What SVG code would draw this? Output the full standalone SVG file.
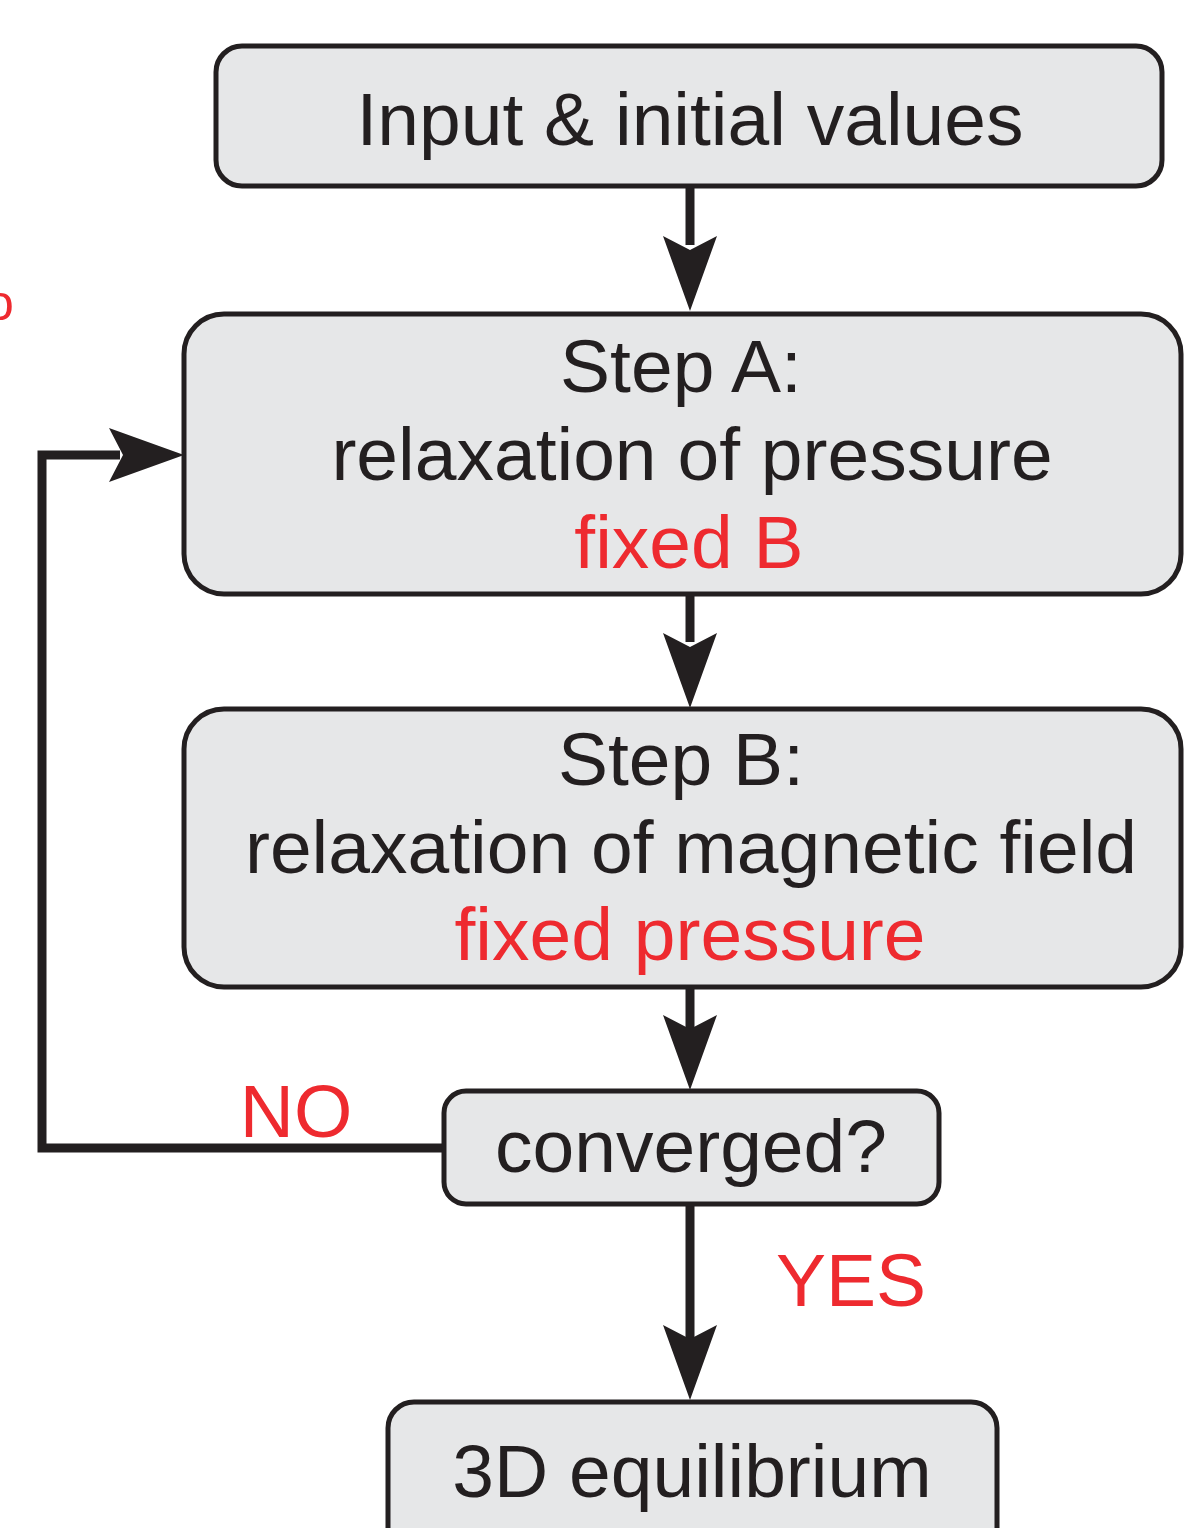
<svg xmlns="http://www.w3.org/2000/svg" width="1184" height="1528" viewBox="0 0 1184 1528">
<defs>
<style>
.box{fill:#e6e7e8;stroke:#231f20;stroke-width:5}
.t{font-family:"Liberation Sans",Arial,sans-serif;font-size:75px;fill:#231f20;text-anchor:middle}
.r{fill:#ee2a2f}
.line{fill:none;stroke:#231f20;stroke-width:9;stroke-linejoin:miter}
.head{fill:#231f20}
</style>
</defs>
<rect width="1184" height="1528" fill="#ffffff"/>
<text x="-14" y="320" style="font-family:'Liberation Sans',Arial,sans-serif;font-size:50px" class="r">o</text>
<g id="connectors">
<path class="line" d="M690,187 V245"/>
<path class="head" d="M690,311 L663,236 L690,250 L717,236 Z"/>
<path class="line" d="M690,595 V642"/>
<path class="head" d="M690,708 L663,633 L690,647 L717,633 Z"/>
<path class="line" d="M690,988 V1030"/>
<path class="head" d="M690,1090 L663,1015 L690,1029 L717,1015 Z"/>
<path class="line" d="M690,1205 V1340"/>
<path class="head" d="M690,1400 L663,1325 L690,1339 L717,1325 Z"/>
<path class="line" d="M443,1148 H42 V455 H120"/>
<path class="head" d="M184,455 L109,428 L123,455 L109,482 Z"/>
<text class="t r" x="296" y="1137">NO</text>
<text class="t r" x="851" y="1306">YES</text>
</g>
<g id="input">
<rect class="box" x="216" y="46" width="946" height="140" rx="26"/>
<text class="t" x="690" y="145">Input &amp; initial values</text>
</g>
<g id="stepA">
<rect class="box" x="184" y="314" width="997" height="280" rx="40"/>
<text class="t" x="681" y="392">Step A:</text>
<text class="t" x="692" y="480">relaxation of pressure</text>
<text class="t r" x="689" y="568">fixed B</text>
</g>
<g id="stepB">
<rect class="box" x="184" y="709" width="997" height="278" rx="40"/>
<text class="t" x="681" y="785">Step B:</text>
<text class="t" x="691" y="873">relaxation of magnetic field</text>
<text class="t r" x="690" y="960">fixed pressure</text>
</g>
<g id="converged">
<rect class="box" x="444" y="1091" width="495" height="113" rx="22"/>
<text class="t" x="691" y="1172">converged?</text>
</g>
<g id="equilibrium">
<rect class="box" x="388" y="1402" width="609" height="160" rx="26"/>
<text class="t" x="692" y="1497">3D equilibrium</text>
</g>
</svg>
